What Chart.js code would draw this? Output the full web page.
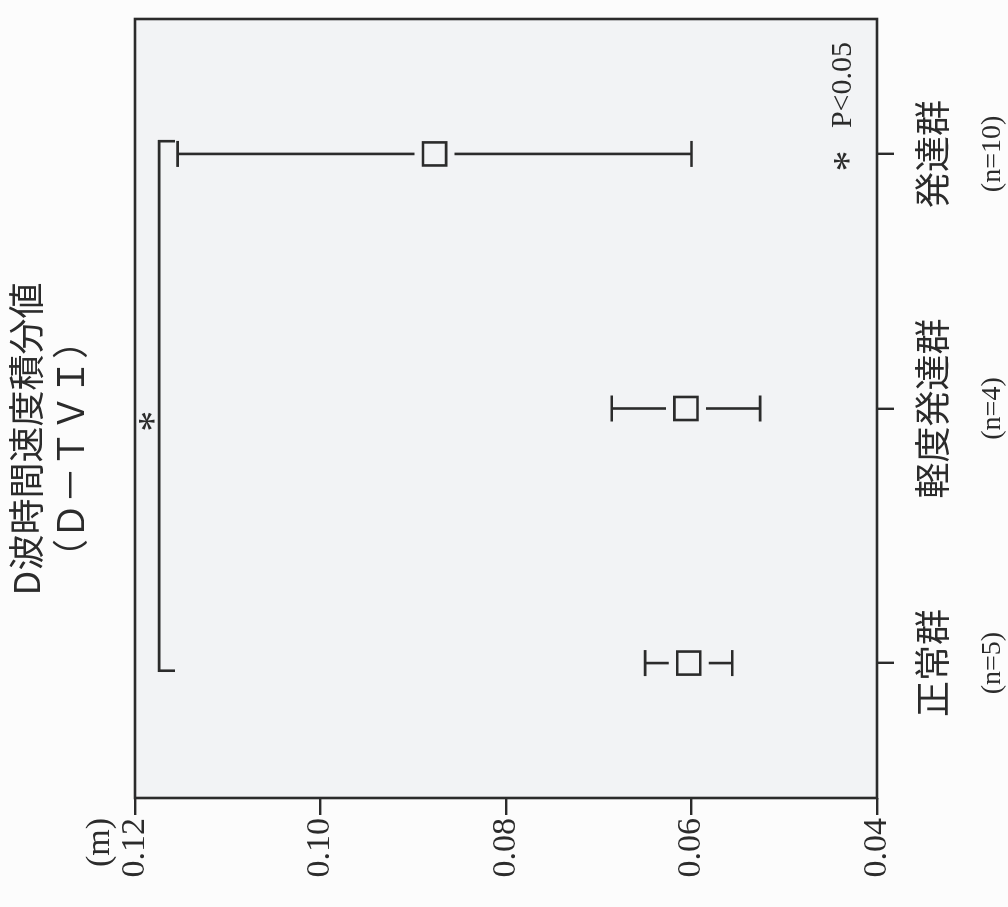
<!DOCTYPE html>
<html lang="ja">
<head>
<meta charset="utf-8">
<title>D波時間速度積分値（D－TVI）</title>
<script src="https://cdn.jsdelivr.net/npm/chart.js@4/dist/chart.umd.min.js"></script>
<style>
  html, body { margin: 0; padding: 0; width: 1008px; height: 907px; overflow: hidden; background: #fcfcfc; }
  /* the figure is laid out upright and then turned a quarter turn counter-clockwise */
  #wrap { position: absolute; left: 0; top: 0; width: 907px; height: 1008px;
          transform-origin: 0 0; transform: translateY(907px) rotate(-90deg); }
  canvas { display: block; }
</style>
</head>
<body>
<div id="wrap"><canvas id="c" width="907" height="1008"></canvas></div>
<script>
// groups and their sizes
const groups = ['正常群', '軽度発達群', '発達群'];
const groupN = ['(n=5)', '(n=4)', '(n=10)'];

// mean ± SD of D-TVI (m)
const meanValues = [0.0603, 0.0606, 0.0877];
const sdValues = [0.0047, 0.0080, 0.0277];

// value axis ticks
const valueTicks = [0.04, 0.06, 0.08, 0.10, 0.12];

// significance bracket between 正常群 and 発達群
const bracketX = [-0.03, 2.05];
const bracketLevel = 0.1174;
const bracketTip = 0.1157;
const starPos = [0.95, 0.1186];

const INK = '#2b2b2b';
const PLOT_BG = '#f2f3f5';
const SERIF = "'Liberation Serif', 'DejaVu Serif', serif";
const CJK = "'Noto Sans CJK JP', 'Noto Sans CJK SC', sans-serif";

const plotBackground = {
  id: 'plotBackground',
  beforeDraw(chart) {
    const { ctx, chartArea: a } = chart;
    ctx.save();
    ctx.fillStyle = PLOT_BG;
    ctx.fillRect(a.left, a.top, a.right - a.left, a.bottom - a.top);
    ctx.restore();
  }
};

const errorBars = {
  id: 'errorBars',
  beforeDatasetsDraw(chart) {
    const { ctx, scales: { x, y } } = chart;
    ctx.save();
    ctx.strokeStyle = INK;
    ctx.lineWidth = 2.6;
    meanValues.forEach((m, i) => {
      const px = x.getPixelForValue(i);
      const hi = y.getPixelForValue(m + sdValues[i]);
      const lo = y.getPixelForValue(m - sdValues[i]);
      const mid = y.getPixelForValue(m);
      const gap = 20;
      ctx.beginPath();
      ctx.moveTo(px, hi); ctx.lineTo(px, mid - gap);
      ctx.moveTo(px, mid + gap); ctx.lineTo(px, lo);
      ctx.moveTo(px - 13, hi); ctx.lineTo(px + 13, hi);
      ctx.moveTo(px - 13, lo); ctx.lineTo(px + 13, lo);
      ctx.stroke();
    });
    ctx.restore();
  }
};

const annotations = {
  id: 'annotations',
  afterDraw(chart) {
    const { ctx, chartArea: a, scales: { x, y } } = chart;
    ctx.save();
    // frame
    ctx.strokeStyle = INK;
    ctx.lineWidth = 2.6;
    ctx.strokeRect(a.left, a.top, a.right - a.left, a.bottom - a.top);

    ctx.fillStyle = INK;
    // title
    ctx.font = '36px ' + CJK;
    ctx.textAlign = 'center';
    ctx.textBaseline = 'middle';
    ctx.fillText('D波時間速度積分値', 468, 26);
    ctx.fillText('（Ｄ－ＴＶＩ）', 458, 70);

    // unit
    ctx.font = '34px ' + SERIF;
    ctx.textAlign = 'right';
    ctx.fillText('(m)', a.left - 20, 100);

    // significance star on the bracket
    ctx.font = '42px ' + SERIF;
    ctx.textAlign = 'center';
    ctx.textBaseline = 'middle';
    ctx.fillText('*', x.getPixelForValue(starPos[0]), y.getPixelForValue(starPos[1]) + 8);

    // key
    ctx.font = '30px ' + SERIF;
    ctx.textAlign = 'right';
    ctx.fillText('P<0.05', a.right - 23, a.bottom - 34);
    ctx.font = '42px ' + SERIF;
    ctx.textAlign = 'center';
    ctx.fillText('*', a.right - 142, a.bottom - 26);
    ctx.restore();
  }
};

const fixedTicks = (values) => (axis) => { axis.ticks = values.map(v => ({ value: v })); };

new Chart(document.getElementById('c'), {
  data: {
    datasets: [
      {
        type: 'line',
        data: [
          { x: bracketX[0], y: bracketTip },
          { x: bracketX[0], y: bracketLevel },
          { x: bracketX[1], y: bracketLevel },
          { x: bracketX[1], y: bracketTip }
        ],
        borderColor: INK,
        borderWidth: 2.6,
        pointRadius: 0,
        tension: 0,
        fill: false,
        order: 2
      },
      {
        type: 'scatter',
        data: meanValues.map((m, i) => ({ x: i, y: m })),
        pointStyle: 'rect',
        pointRadius: 16.3,
        pointHoverRadius: 16.3,
        pointBackgroundColor: PLOT_BG,
        pointBorderColor: INK,
        pointBorderWidth: 2.6,
        order: 1
      }
    ]
  },
  options: {
    responsive: false,
    animation: false,
    devicePixelRatio: 1,
    events: [],
    layout: { padding: { left: 0, right: 19, top: 135, bottom: 0 } },
    plugins: { legend: { display: false }, tooltip: { enabled: false }, title: { display: false } },
    scales: {
      x: {
        type: 'linear',
        position: 'bottom',
        weight: 0,
        min: -0.53,
        max: 2.53,
        afterBuildTicks: fixedTicks([0, 1, 2]),
        afterFit: (s) => { s.height = 80; },
        border: { display: false },
        grid: { drawOnChartArea: false, tickLength: 17, color: INK, lineWidth: 2.4 },
        ticks: {
          color: INK,
          padding: 17,
          maxRotation: 0,
          autoSkip: false,
          font: { family: CJK, size: 36 },
          callback: (v) => groups[v]
        }
      },
      x2: {
        type: 'linear',
        axis: 'x',
        position: 'bottom',
        weight: 1,
        min: -0.53,
        max: 2.53,
        afterBuildTicks: fixedTicks([0, 1, 2]),
        afterFit: (s) => { s.height = 51; },
        border: { display: false },
        grid: { display: false },
        ticks: {
          color: INK,
          padding: 11,
          maxRotation: 0,
          autoSkip: false,
          font: { family: SERIF, size: 28 },
          callback: (v) => groupN[v]
        }
      },
      y: {
        type: 'linear',
        position: 'left',
        min: 0.04,
        max: 0.12,
        afterBuildTicks: fixedTicks(valueTicks),
        afterFit: (s) => { s.width = 109; },
        border: { display: false },
        grid: { drawOnChartArea: false, tickLength: 17, color: INK, lineWidth: 2.4 },
        ticks: {
          color: INK,
          padding: 3,
          font: { family: SERIF, size: 34 },
          callback: (v) => v.toFixed(2)
        }
      }
    }
  },
  plugins: [plotBackground, errorBars, annotations]
});
</script>
</body>
</html>
